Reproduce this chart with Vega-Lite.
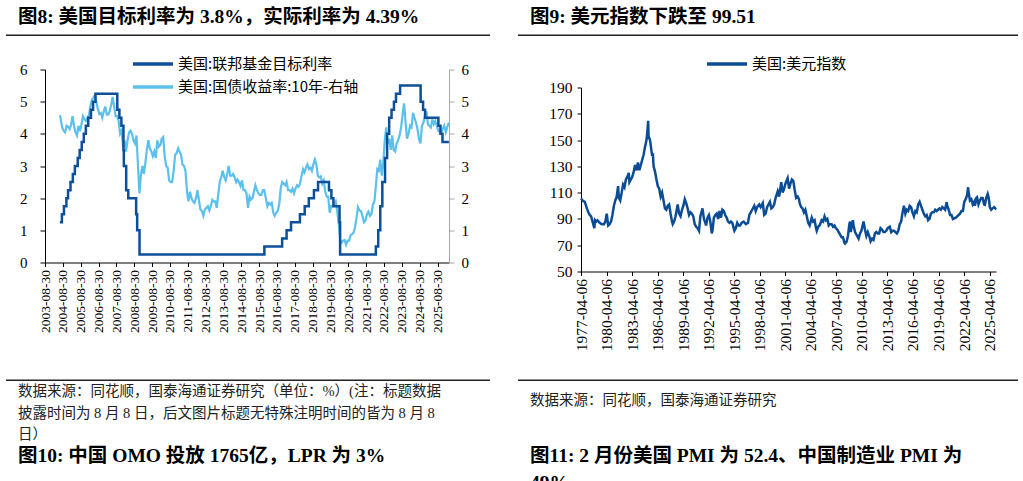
{
"$schema": "https://vega.github.io/schema/vega-lite/v6.json",
"background": "white",
"padding": {"left": 6, "top": 6.5, "right": 0, "bottom": 0},
"config": {"view": {"stroke": null}, "font": "Liberation Serif, Noto Sans CJK SC"},
"datasets": {
"fed": [{"d":"2004-06-30","v":1.25},{"d":"2004-08-10","v":1.5},{"d":"2004-09-21","v":1.75},{"d":"2004-11-10","v":2.0},{"d":"2004-12-14","v":2.25},{"d":"2005-02-02","v":2.5},{"d":"2005-03-22","v":2.75},{"d":"2005-05-03","v":3.0},{"d":"2005-06-30","v":3.25},{"d":"2005-08-09","v":3.5},{"d":"2005-09-20","v":3.75},{"d":"2005-11-01","v":4.0},{"d":"2005-12-13","v":4.25},{"d":"2006-01-31","v":4.5},{"d":"2006-03-28","v":4.75},{"d":"2006-05-10","v":5.0},{"d":"2006-06-29","v":5.25},{"d":"2007-09-18","v":4.75},{"d":"2007-10-31","v":4.5},{"d":"2007-12-11","v":4.25},{"d":"2008-01-22","v":3.5},{"d":"2008-01-30","v":3.0},{"d":"2008-03-18","v":2.25},{"d":"2008-04-30","v":2.0},{"d":"2008-10-08","v":1.5},{"d":"2008-10-29","v":1.0},{"d":"2008-12-16","v":0.25},{"d":"2015-12-16","v":0.5},{"d":"2016-12-14","v":0.75},{"d":"2017-03-15","v":1.0},{"d":"2017-06-14","v":1.25},{"d":"2017-12-13","v":1.5},{"d":"2018-03-21","v":1.75},{"d":"2018-06-13","v":2.0},{"d":"2018-09-26","v":2.25},{"d":"2018-12-19","v":2.5},{"d":"2019-07-31","v":2.25},{"d":"2019-09-18","v":2.0},{"d":"2019-10-30","v":1.75},{"d":"2020-03-03","v":1.25},{"d":"2020-03-15","v":0.25},{"d":"2022-03-16","v":0.5},{"d":"2022-05-04","v":1.0},{"d":"2022-06-15","v":1.75},{"d":"2022-07-27","v":2.5},{"d":"2022-09-21","v":3.25},{"d":"2022-11-02","v":4.0},{"d":"2022-12-14","v":4.5},{"d":"2023-02-01","v":4.75},{"d":"2023-03-22","v":5.0},{"d":"2023-05-03","v":5.25},{"d":"2023-07-26","v":5.5},{"d":"2024-09-18","v":5.0},{"d":"2024-11-07","v":4.75},{"d":"2024-12-18","v":4.5},{"d":"2025-09-17","v":4.25},{"d":"2025-10-29","v":4.0},{"d":"2025-12-10","v":3.75},{"d":"2026-04-20","v":3.75}],
"yld": [{"d":"2004-06-30","v":4.58},{"d":"2004-07-15","v":4.48},{"d":"2004-08-15","v":4.2},{"d":"2004-09-15","v":4.1},{"d":"2004-10-15","v":4.05},{"d":"2004-11-15","v":4.25},{"d":"2004-12-15","v":4.22},
{"d":"2005-01-15","v":4.15},{"d":"2005-02-15","v":4.28},{"d":"2005-03-15","v":4.55},{"d":"2005-04-15","v":4.25},{"d":"2005-05-15","v":4.05},{"d":"2005-06-15","v":3.95},{"d":"2005-07-15","v":4.25},{"d":"2005-08-15","v":4.08},{"d":"2005-09-15","v":4.3},{"d":"2005-10-15","v":4.55},{"d":"2005-11-15","v":4.45},{"d":"2005-12-15","v":4.4},
{"d":"2006-01-15","v":4.5},{"d":"2006-02-15","v":4.58},{"d":"2006-03-15","v":4.85},{"d":"2006-04-15","v":5.05},{"d":"2006-05-15","v":5.12},{"d":"2006-06-15","v":5.2},{"d":"2006-07-15","v":5.0},{"d":"2006-08-15","v":4.78},{"d":"2006-09-15","v":4.62},{"d":"2006-10-15","v":4.65},{"d":"2006-11-15","v":4.5},{"d":"2006-12-15","v":4.7},
{"d":"2007-01-15","v":4.85},{"d":"2007-02-15","v":4.6},{"d":"2007-03-15","v":4.6},{"d":"2007-04-15","v":4.7},{"d":"2007-05-15","v":4.9},{"d":"2007-06-15","v":5.15},{"d":"2007-07-15","v":4.85},{"d":"2007-08-15","v":4.55},{"d":"2007-09-15","v":4.55},{"d":"2007-10-15","v":4.4},{"d":"2007-11-15","v":4.0},{"d":"2007-12-15","v":4.1},
{"d":"2008-01-15","v":3.6},{"d":"2008-02-15","v":3.8},{"d":"2008-03-15","v":3.45},{"d":"2008-04-15","v":3.8},{"d":"2008-05-15","v":4.05},{"d":"2008-06-15","v":4.1},{"d":"2008-07-15","v":4.0},{"d":"2008-08-15","v":3.8},{"d":"2008-09-15","v":3.7},{"d":"2008-10-15","v":3.95},{"d":"2008-11-15","v":3.0},{"d":"2008-12-15","v":2.15},
{"d":"2009-01-15","v":2.75},{"d":"2009-02-15","v":3.0},{"d":"2009-03-15","v":2.75},{"d":"2009-04-15","v":3.1},{"d":"2009-05-15","v":3.5},{"d":"2009-06-15","v":3.8},{"d":"2009-07-15","v":3.55},{"d":"2009-08-15","v":3.45},{"d":"2009-09-15","v":3.3},{"d":"2009-10-15","v":3.45},{"d":"2009-11-15","v":3.25},{"d":"2009-12-15","v":3.8},
{"d":"2010-01-15","v":3.6},{"d":"2010-02-15","v":3.65},{"d":"2010-03-15","v":3.85},{"d":"2010-04-15","v":3.9},{"d":"2010-05-15","v":3.3},{"d":"2010-06-15","v":3.0},{"d":"2010-07-15","v":2.95},{"d":"2010-08-15","v":2.55},{"d":"2010-09-15","v":2.5},{"d":"2010-10-15","v":2.5},{"d":"2010-11-15","v":2.85},{"d":"2010-12-15","v":3.35},
{"d":"2011-01-15","v":3.4},{"d":"2011-02-15","v":3.55},{"d":"2011-03-15","v":3.45},{"d":"2011-04-15","v":3.35},{"d":"2011-05-15","v":3.05},{"d":"2011-06-15","v":3.0},{"d":"2011-07-15","v":2.85},{"d":"2011-08-15","v":2.2},{"d":"2011-09-15","v":1.9},{"d":"2011-10-15","v":2.2},{"d":"2011-11-15","v":2.0},{"d":"2011-12-15","v":1.9},
{"d":"2012-01-15","v":1.85},{"d":"2012-02-15","v":2.0},{"d":"2012-03-15","v":2.25},{"d":"2012-04-15","v":1.95},{"d":"2012-05-15","v":1.65},{"d":"2012-06-15","v":1.6},{"d":"2012-07-15","v":1.45},{"d":"2012-08-15","v":1.65},{"d":"2012-09-15","v":1.7},{"d":"2012-10-15","v":1.75},{"d":"2012-11-15","v":1.62},{"d":"2012-12-15","v":1.75},
{"d":"2013-01-15","v":1.95},{"d":"2013-02-15","v":1.9},{"d":"2013-03-15","v":1.9},{"d":"2013-04-15","v":1.7},{"d":"2013-05-15","v":2.1},{"d":"2013-06-15","v":2.5},{"d":"2013-07-15","v":2.65},{"d":"2013-08-15","v":2.85},{"d":"2013-09-15","v":2.65},{"d":"2013-10-15","v":2.55},{"d":"2013-11-15","v":2.75},{"d":"2013-12-15","v":3.0},
{"d":"2014-01-15","v":2.7},{"d":"2014-02-15","v":2.7},{"d":"2014-03-15","v":2.75},{"d":"2014-04-15","v":2.65},{"d":"2014-05-15","v":2.5},{"d":"2014-06-15","v":2.58},{"d":"2014-07-15","v":2.5},{"d":"2014-08-15","v":2.38},{"d":"2014-09-15","v":2.55},{"d":"2014-10-15","v":2.25},{"d":"2014-11-15","v":2.25},{"d":"2014-12-15","v":2.15},
{"d":"2015-01-15","v":1.7},{"d":"2015-02-15","v":2.05},{"d":"2015-03-15","v":1.95},{"d":"2015-04-15","v":2.0},{"d":"2015-05-15","v":2.2},{"d":"2015-06-15","v":2.4},{"d":"2015-07-15","v":2.25},{"d":"2015-08-15","v":2.15},{"d":"2015-09-15","v":2.1},{"d":"2015-10-15","v":2.1},{"d":"2015-11-15","v":2.25},{"d":"2015-12-15","v":2.25},
{"d":"2016-01-15","v":2.0},{"d":"2016-02-15","v":1.75},{"d":"2016-03-15","v":1.85},{"d":"2016-04-15","v":1.8},{"d":"2016-05-15","v":1.85},{"d":"2016-06-15","v":1.55},{"d":"2016-07-15","v":1.45},{"d":"2016-08-15","v":1.55},{"d":"2016-09-15","v":1.6},{"d":"2016-10-15","v":1.8},{"d":"2016-11-15","v":2.3},{"d":"2016-12-15","v":2.5},
{"d":"2017-01-15","v":2.45},{"d":"2017-02-15","v":2.4},{"d":"2017-03-15","v":2.5},{"d":"2017-04-15","v":2.25},{"d":"2017-05-15","v":2.25},{"d":"2017-06-15","v":2.2},{"d":"2017-07-15","v":2.3},{"d":"2017-08-15","v":2.15},{"d":"2017-09-15","v":2.3},{"d":"2017-10-15","v":2.4},{"d":"2017-11-15","v":2.35},{"d":"2017-12-15","v":2.45},
{"d":"2018-01-15","v":2.7},{"d":"2018-02-15","v":2.9},{"d":"2018-03-15","v":2.8},{"d":"2018-04-15","v":2.95},{"d":"2018-05-15","v":3.05},{"d":"2018-06-15","v":2.9},{"d":"2018-07-15","v":2.95},{"d":"2018-08-15","v":2.85},{"d":"2018-09-15","v":3.05},{"d":"2018-10-15","v":3.2},{"d":"2018-11-15","v":3.05},{"d":"2018-12-15","v":2.7},
{"d":"2019-01-15","v":2.65},{"d":"2019-02-15","v":2.68},{"d":"2019-03-15","v":2.45},{"d":"2019-04-15","v":2.55},{"d":"2019-05-15","v":2.2},{"d":"2019-06-15","v":2.05},{"d":"2019-07-15","v":2.05},{"d":"2019-08-15","v":1.55},{"d":"2019-09-15","v":1.75},{"d":"2019-10-15","v":1.75},{"d":"2019-11-15","v":1.82},{"d":"2019-12-15","v":1.9},
{"d":"2020-01-15","v":1.6},{"d":"2020-02-15","v":1.2},{"d":"2020-03-15","v":0.7},{"d":"2020-04-15","v":0.62},{"d":"2020-05-15","v":0.68},{"d":"2020-06-15","v":0.7},{"d":"2020-07-15","v":0.55},{"d":"2020-08-15","v":0.68},{"d":"2020-09-15","v":0.68},{"d":"2020-10-15","v":0.85},{"d":"2020-11-15","v":0.88},{"d":"2020-12-15","v":0.93},
{"d":"2021-01-15","v":1.1},{"d":"2021-02-15","v":1.4},{"d":"2021-03-15","v":1.72},{"d":"2021-04-15","v":1.62},{"d":"2021-05-15","v":1.6},{"d":"2021-06-15","v":1.45},{"d":"2021-07-15","v":1.25},{"d":"2021-08-15","v":1.3},{"d":"2021-09-15","v":1.5},{"d":"2021-10-15","v":1.58},{"d":"2021-11-15","v":1.45},{"d":"2021-12-15","v":1.5},
{"d":"2022-01-15","v":1.8},{"d":"2022-02-15","v":1.9},{"d":"2022-03-15","v":2.35},{"d":"2022-04-15","v":2.9},{"d":"2022-05-15","v":2.85},{"d":"2022-06-15","v":3.2},{"d":"2022-07-15","v":2.7},{"d":"2022-08-15","v":3.1},{"d":"2022-09-15","v":3.8},{"d":"2022-10-15","v":4.2},{"d":"2022-11-15","v":3.7},{"d":"2022-12-15","v":3.85},
{"d":"2023-01-15","v":3.5},{"d":"2023-02-15","v":3.95},{"d":"2023-03-15","v":3.5},{"d":"2023-04-15","v":3.45},{"d":"2023-05-15","v":3.7},{"d":"2023-06-15","v":3.8},{"d":"2023-07-15","v":3.95},{"d":"2023-08-15","v":4.2},{"d":"2023-09-15","v":4.6},{"d":"2023-10-15","v":4.95},{"d":"2023-11-15","v":4.35},{"d":"2023-12-15","v":3.85},
{"d":"2024-01-15","v":4.0},{"d":"2024-02-15","v":4.25},{"d":"2024-03-15","v":4.2},{"d":"2024-04-15","v":4.65},{"d":"2024-05-15","v":4.5},{"d":"2024-06-15","v":4.35},{"d":"2024-07-15","v":4.15},{"d":"2024-08-15","v":3.85},{"d":"2024-09-15","v":3.7},{"d":"2024-10-15","v":4.25},{"d":"2024-11-15","v":4.35},{"d":"2024-12-15","v":4.55},
{"d":"2025-01-15","v":4.7},{"d":"2025-02-15","v":4.3},{"d":"2025-03-15","v":4.25},{"d":"2025-04-15","v":4.2},{"d":"2025-05-15","v":4.45},{"d":"2025-06-15","v":4.3},{"d":"2025-07-15","v":4.4},{"d":"2025-08-15","v":4.25},{"d":"2025-09-15","v":4.1},{"d":"2025-10-15","v":4.05},{"d":"2025-11-15","v":4.05},{"d":"2025-12-15","v":4.15},
{"d":"2026-01-15","v":4.25},{"d":"2026-02-15","v":4.05},{"d":"2026-03-15","v":4.2},{"d":"2026-04-20","v":4.35}],
"dxy": [{"d":"1977-04-06","v":105.5},{"d":"1977-06-15","v":104},{"d":"1977-09-15","v":103},{"d":"1977-12-15","v":98},{"d":"1978-02-15","v":95},{"d":"1978-04-15","v":93},{"d":"1978-06-15","v":92},{"d":"1978-08-15","v":88},{"d":"1978-10-30","v":83},{"d":"1978-11-30","v":89},{"d":"1979-01-15","v":88},{"d":"1979-03-15","v":89},{"d":"1979-06-15","v":87},{"d":"1979-09-15","v":86},{"d":"1979-12-15","v":86},
{"d":"1980-02-15","v":88},{"d":"1980-04-15","v":94},{"d":"1980-06-15","v":85},{"d":"1980-08-15","v":86},{"d":"1980-10-15","v":88},{"d":"1980-12-15","v":93},{"d":"1981-02-15","v":100},{"d":"1981-04-15","v":104},{"d":"1981-06-15","v":107},{"d":"1981-08-15","v":115},{"d":"1981-09-15","v":106},{"d":"1981-11-15","v":104},
{"d":"1982-01-15","v":110},{"d":"1982-03-15","v":116},{"d":"1982-05-15","v":114},{"d":"1982-07-15","v":120},{"d":"1982-09-15","v":122},{"d":"1982-11-15","v":125},{"d":"1982-12-15","v":118},{"d":"1983-02-15","v":120},{"d":"1983-04-15","v":122},{"d":"1983-06-15","v":126},{"d":"1983-08-15","v":131},{"d":"1983-10-15","v":127},{"d":"1983-12-15","v":133},
{"d":"1984-02-15","v":127},{"d":"1984-04-15","v":131},{"d":"1984-06-15","v":135},{"d":"1984-08-15","v":139},{"d":"1984-10-15","v":145},{"d":"1984-12-15","v":150},{"d":"1985-01-15","v":155},{"d":"1985-02-25","v":164.7},{"d":"1985-03-15","v":153},{"d":"1985-05-15","v":150},{"d":"1985-06-15","v":146},{"d":"1985-08-15","v":138},{"d":"1985-09-15","v":140},{"d":"1985-10-15","v":130},{"d":"1985-12-15","v":126},
{"d":"1986-02-15","v":120},{"d":"1986-04-15","v":115},{"d":"1986-06-15","v":113},{"d":"1986-08-15","v":107},{"d":"1986-10-15","v":110},{"d":"1986-12-15","v":104},{"d":"1987-02-15","v":98},{"d":"1987-04-15","v":97},{"d":"1987-06-15","v":100},{"d":"1987-08-15","v":101},{"d":"1987-10-15","v":94},{"d":"1987-12-15","v":88},
{"d":"1988-01-15","v":86},{"d":"1988-03-15","v":88},{"d":"1988-05-15","v":92},{"d":"1988-07-15","v":98},{"d":"1988-08-15","v":101},{"d":"1988-10-15","v":94},{"d":"1988-12-15","v":92},{"d":"1989-02-15","v":97},{"d":"1989-04-15","v":100},{"d":"1989-06-15","v":105},{"d":"1989-08-15","v":102},{"d":"1989-10-15","v":98},{"d":"1989-12-15","v":93},
{"d":"1990-02-15","v":95},{"d":"1990-04-15","v":94},{"d":"1990-06-15","v":92},{"d":"1990-08-15","v":86},{"d":"1990-10-15","v":84},{"d":"1990-12-15","v":83},{"d":"1991-02-15","v":81},{"d":"1991-04-15","v":92},{"d":"1991-07-15","v":98},{"d":"1991-09-15","v":90},{"d":"1991-11-15","v":87},{"d":"1991-12-15","v":85},
{"d":"1992-02-15","v":91},{"d":"1992-04-15","v":93},{"d":"1992-06-15","v":88},{"d":"1992-08-15","v":79},{"d":"1992-09-15","v":81},{"d":"1992-11-15","v":91},{"d":"1993-01-15","v":93},{"d":"1993-03-15","v":94},{"d":"1993-05-15","v":90},{"d":"1993-07-15","v":96},{"d":"1993-09-15","v":91},{"d":"1993-11-15","v":97},
{"d":"1994-01-15","v":96},{"d":"1994-03-15","v":93},{"d":"1994-05-15","v":91},{"d":"1994-07-15","v":88},{"d":"1994-09-15","v":87},{"d":"1994-11-15","v":88},{"d":"1995-01-15","v":87},{"d":"1995-03-15","v":83},{"d":"1995-04-15","v":81},{"d":"1995-06-15","v":83},{"d":"1995-08-15","v":87},{"d":"1995-10-15","v":85},{"d":"1995-12-15","v":85},
{"d":"1996-02-15","v":87},{"d":"1996-05-15","v":88},{"d":"1996-08-15","v":86},{"d":"1996-11-15","v":87},{"d":"1997-01-15","v":93},{"d":"1997-03-15","v":95},{"d":"1997-05-15","v":97},{"d":"1997-08-15","v":100},{"d":"1997-10-15","v":96},{"d":"1997-12-15","v":99},
{"d":"1998-03-15","v":101},{"d":"1998-05-15","v":99},{"d":"1998-08-15","v":102},{"d":"1998-10-15","v":93},{"d":"1998-12-15","v":94},{"d":"1999-02-15","v":99},{"d":"1999-04-15","v":101},{"d":"1999-06-15","v":103},{"d":"1999-08-15","v":98},{"d":"1999-10-15","v":99},{"d":"1999-12-15","v":101},
{"d":"2000-02-15","v":106},{"d":"2000-05-15","v":111},{"d":"2000-07-15","v":107},{"d":"2000-10-15","v":118},{"d":"2000-12-15","v":110},{"d":"2001-02-15","v":113},{"d":"2001-04-15","v":117},{"d":"2001-07-15","v":121},{"d":"2001-09-15","v":113},{"d":"2001-11-15","v":117},
{"d":"2002-01-15","v":120},{"d":"2002-03-15","v":119},{"d":"2002-05-15","v":112},{"d":"2002-07-15","v":106},{"d":"2002-09-15","v":107},{"d":"2002-11-15","v":105},{"d":"2002-12-15","v":102},{"d":"2003-02-15","v":99},{"d":"2003-04-15","v":98},{"d":"2003-06-15","v":95},{"d":"2003-08-15","v":97},{"d":"2003-10-15","v":92},{"d":"2003-12-15","v":87},
{"d":"2004-02-15","v":85},{"d":"2004-05-15","v":91},{"d":"2004-07-15","v":88},{"d":"2004-09-15","v":89},{"d":"2004-11-15","v":83},{"d":"2004-12-15","v":81},{"d":"2005-02-15","v":84},{"d":"2005-04-15","v":85},{"d":"2005-07-15","v":89},{"d":"2005-09-15","v":88},{"d":"2005-11-15","v":92},
{"d":"2006-01-15","v":89},{"d":"2006-03-15","v":90},{"d":"2006-05-15","v":85},{"d":"2006-07-15","v":86},{"d":"2006-09-15","v":86},{"d":"2006-11-15","v":84},{"d":"2007-01-15","v":85},{"d":"2007-03-15","v":83},{"d":"2007-05-15","v":82},{"d":"2007-07-15","v":80},{"d":"2007-09-15","v":78},{"d":"2007-11-15","v":76},
{"d":"2008-01-15","v":76},{"d":"2008-03-15","v":72},{"d":"2008-04-15","v":71.3},{"d":"2008-06-15","v":72.5},{"d":"2008-08-15","v":77},{"d":"2008-10-15","v":86},{"d":"2008-11-15","v":88},{"d":"2008-12-15","v":80},{"d":"2009-03-15","v":89},{"d":"2009-04-15","v":85},{"d":"2009-06-15","v":80},{"d":"2009-08-15","v":78},{"d":"2009-11-15","v":75},
{"d":"2010-01-15","v":79},{"d":"2010-03-15","v":81},{"d":"2010-06-15","v":88},{"d":"2010-08-15","v":82},{"d":"2010-10-15","v":77},{"d":"2010-12-15","v":80},{"d":"2011-02-15","v":77},{"d":"2011-04-15","v":73},{"d":"2011-06-15","v":75},{"d":"2011-08-15","v":74},{"d":"2011-10-15","v":79},{"d":"2011-12-15","v":80},
{"d":"2012-02-15","v":79},{"d":"2012-04-15","v":79},{"d":"2012-06-15","v":83},{"d":"2012-08-15","v":82},{"d":"2012-10-15","v":80},{"d":"2012-12-15","v":80},{"d":"2013-02-15","v":81},{"d":"2013-04-15","v":83},{"d":"2013-07-15","v":84},{"d":"2013-09-15","v":80},{"d":"2013-11-15","v":81},
{"d":"2014-01-15","v":81},{"d":"2014-03-15","v":80},{"d":"2014-05-15","v":79},{"d":"2014-07-15","v":81},{"d":"2014-09-15","v":86},{"d":"2014-11-15","v":88},{"d":"2015-01-15","v":95},{"d":"2015-03-15","v":100},{"d":"2015-05-15","v":94},{"d":"2015-07-15","v":97},{"d":"2015-09-15","v":96},{"d":"2015-11-15","v":100},
{"d":"2016-01-15","v":99},{"d":"2016-03-15","v":95},{"d":"2016-05-15","v":92},{"d":"2016-07-15","v":96},{"d":"2016-09-15","v":95},{"d":"2016-11-15","v":101},{"d":"2017-01-15","v":103},{"d":"2017-03-15","v":100},{"d":"2017-05-15","v":97},{"d":"2017-07-15","v":94},{"d":"2017-09-15","v":92},{"d":"2017-11-15","v":93},
{"d":"2018-01-15","v":89},{"d":"2018-03-15","v":90},{"d":"2018-05-15","v":94},{"d":"2018-07-15","v":95},{"d":"2018-09-15","v":95},{"d":"2018-11-15","v":97},{"d":"2019-01-15","v":96},{"d":"2019-03-15","v":97},{"d":"2019-05-15","v":98},{"d":"2019-07-15","v":97},{"d":"2019-09-15","v":99},{"d":"2019-11-15","v":98},
{"d":"2020-01-15","v":97},{"d":"2020-03-20","v":102.8},{"d":"2020-04-15","v":100},{"d":"2020-06-15","v":97},{"d":"2020-08-15","v":93},{"d":"2020-10-15","v":93},{"d":"2020-12-15","v":90},{"d":"2021-02-15","v":90.5},{"d":"2021-04-15","v":91},{"d":"2021-06-15","v":92},{"d":"2021-08-15","v":93},{"d":"2021-10-15","v":94},{"d":"2021-12-15","v":96},
{"d":"2022-02-15","v":96},{"d":"2022-04-15","v":103},{"d":"2022-06-15","v":105},{"d":"2022-08-15","v":108},{"d":"2022-09-27","v":114.1},{"d":"2022-10-15","v":111},{"d":"2022-12-15","v":104},{"d":"2023-02-15","v":105},{"d":"2023-04-15","v":101},{"d":"2023-06-15","v":103},{"d":"2023-07-15","v":100},{"d":"2023-09-15","v":106},{"d":"2023-10-15","v":106.5},{"d":"2023-12-15","v":101},
{"d":"2024-02-15","v":104},{"d":"2024-04-15","v":106},{"d":"2024-06-15","v":105.8},{"d":"2024-08-15","v":101},{"d":"2024-09-15","v":100.8},{"d":"2024-11-15","v":106},{"d":"2025-01-15","v":109},{"d":"2025-02-15","v":107},{"d":"2025-03-15","v":104},{"d":"2025-04-15","v":99},{"d":"2025-06-15","v":97},{"d":"2025-08-15","v":98},{"d":"2025-10-15","v":99},{"d":"2025-12-15","v":98},{"d":"2026-01-06","v":98.5}]
},
"concat": [
{
 "width": 484, "height": 1.5,
 "data": {"values": [{}]},
 "mark": {"type": "rect", "color": "#222"},
 "title": {"text": "图8:  美国目标利率为 3.8%，实际利率为 4.39%", "anchor": "start", "dx": 12, "offset": 7, "fontSize": 19.5, "fontWeight": "bold", "color": "#000", "font": "Liberation Serif, Noto Sans CJK SC"}
},
{
 "width": 500, "height": 1.5,
 "data": {"values": [{}]},
 "mark": {"type": "rect", "color": "#222"},
 "title": {"text": "图9:  美元指数下跌至 99.51", "anchor": "start", "dx": 12, "offset": 7, "fontSize": 19.5, "fontWeight": "bold", "color": "#000", "font": "Liberation Serif, Noto Sans CJK SC"}
},
{
 "width": 484, "height": 342.5,
 "encoding": {
  "x": {"field": "d", "type": "temporal",
   "scale": {"type": "utc", "domain": [{"year": 2003, "month": 8, "date": 30, "utc": true}, {"year": 2026, "month": 4, "date": 22, "utc": true}], "range": [39, 443]},
   "axis": {"title": null, "format": "%Y-%m-%d", "labelAngle": -90, "labelFont": "Liberation Serif", "labelFontSize": 13.5, "labelColor": "#000", "domainColor": "#000", "tickColor": "#000", "tickSize": 4, "labelPadding": 3, "offset": -116.5, "grid": false, "labelOverlap": false, "labelBound": false, "labelFlush": false,
    "values": [{"year":2003,"month":8,"date":30,"utc":true},{"year":2004,"month":8,"date":30,"utc":true},{"year":2005,"month":8,"date":30,"utc":true},{"year":2006,"month":8,"date":30,"utc":true},{"year":2007,"month":8,"date":30,"utc":true},{"year":2008,"month":8,"date":30,"utc":true},{"year":2009,"month":8,"date":30,"utc":true},{"year":2010,"month":8,"date":30,"utc":true},{"year":2011,"month":8,"date":30,"utc":true},{"year":2012,"month":8,"date":30,"utc":true},{"year":2013,"month":8,"date":30,"utc":true},{"year":2014,"month":8,"date":30,"utc":true},{"year":2015,"month":8,"date":30,"utc":true},{"year":2016,"month":8,"date":30,"utc":true},{"year":2017,"month":8,"date":30,"utc":true},{"year":2018,"month":8,"date":30,"utc":true},{"year":2019,"month":8,"date":30,"utc":true},{"year":2020,"month":8,"date":30,"utc":true},{"year":2021,"month":8,"date":30,"utc":true},{"year":2022,"month":8,"date":30,"utc":true},{"year":2023,"month":8,"date":30,"utc":true},{"year":2024,"month":8,"date":30,"utc":true},{"year":2025,"month":8,"date":30,"utc":true}]}}
 },
 "layer": [
  {
   "data": {"name": "yld"},
   "mark": {"type": "line", "strokeWidth": 2.2},
   "encoding": {
    "y": {"field": "v", "type": "quantitative", "scale": {"domain": [0, 6], "range": [226, 33]},
     "axis": {"orient": "right", "offset": -41, "title": null, "values": [0,1,2,3,4,5,6], "grid": false, "domainColor": "#A6A6A6", "tickColor": "#A6A6A6", "tickSize": 5, "labelPadding": 7, "labelFont": "Liberation Serif", "labelFontSize": 15, "labelColor": "#000"}},
    "color": {"datum": "美国:国债收益率:10年-右轴", "type": "nominal"}
   }
  },
  {
   "data": {"name": "fed"},
   "mark": {"type": "line", "interpolate": "step-after", "strokeWidth": 2.5},
   "encoding": {
    "y": {"field": "v", "type": "quantitative", "scale": {"domain": [0, 6], "range": [226, 33]},
     "axis": {"orient": "left", "offset": -39, "title": null, "values": [0,1,2,3,4,5,6], "grid": false, "domainColor": "#000", "tickColor": "#000", "tickSize": 5, "labelPadding": 13, "labelFont": "Liberation Serif", "labelFontSize": 15, "labelColor": "#000"}},
    "color": {"datum": "美国:联邦基金目标利率", "type": "nominal",
     "scale": {"domain": ["美国:联邦基金目标利率", "美国:国债收益率:10年-右轴"], "range": ["#0D4F98", "#5BC0EB"]},
     "legend": {"title": null, "orient": "none", "legendX": 125, "legendY": 20, "direction": "vertical", "symbolType": "stroke", "symbolSize": 1600, "clipHeight": 15, "symbolStrokeWidth": 3.5, "labelFont": "Noto Sans CJK SC", "labelFontSize": 15, "labelColor": "#000", "labelLimit": 0, "rowPadding": 7, "labelOffset": 3, "padding": 0}}
   }
  }
 ],
 "resolve": {"scale": {"y": "independent"}}
},
{
 "width": 500, "height": 342.5,
 "data": {"name": "dxy"},
 "mark": {"type": "line", "strokeWidth": 2.5},
 "encoding": {
  "x": {"field": "d", "type": "temporal",
   "scale": {"type": "utc", "domain": [{"year": 1977, "month": 4, "date": 6, "utc": true}, {"year": 2026, "month": 1, "date": 6, "utc": true}], "range": [63, 478]},
   "axis": {"title": null, "format": "%Y-%m-%d", "labelAngle": -90, "labelFont": "Liberation Serif", "labelFontSize": 15.5, "labelColor": "#000", "domainColor": "#000", "tickColor": "#000", "tickSize": 4, "labelPadding": 3, "offset": -107.5, "grid": false, "labelOverlap": false, "labelBound": false, "labelFlush": false,
    "values": [{"year":1977,"month":4,"date":6,"utc":true},{"year":1980,"month":4,"date":6,"utc":true},{"year":1983,"month":4,"date":6,"utc":true},{"year":1986,"month":4,"date":6,"utc":true},{"year":1989,"month":4,"date":6,"utc":true},{"year":1992,"month":4,"date":6,"utc":true},{"year":1995,"month":4,"date":6,"utc":true},{"year":1998,"month":4,"date":6,"utc":true},{"year":2001,"month":4,"date":6,"utc":true},{"year":2004,"month":4,"date":6,"utc":true},{"year":2007,"month":4,"date":6,"utc":true},{"year":2010,"month":4,"date":6,"utc":true},{"year":2013,"month":4,"date":6,"utc":true},{"year":2016,"month":4,"date":6,"utc":true},{"year":2019,"month":4,"date":6,"utc":true},{"year":2022,"month":4,"date":6,"utc":true},{"year":2025,"month":4,"date":6,"utc":true}]}},
  "y": {"field": "v", "type": "quantitative", "scale": {"domain": [50, 190], "range": [235, 51]},
   "axis": {"orient": "left", "offset": -63, "title": null, "values": [50,70,90,110,130,150,170,190], "grid": false, "domainColor": "#000", "tickColor": "#000", "tickSize": 4, "labelPadding": 5, "labelFont": "Liberation Serif", "labelFontSize": 15.5, "labelColor": "#000"}},
  "color": {"datum": "美国:美元指数", "type": "nominal", "scale": {"domain": ["美国:美元指数"], "range": ["#0B4C95"]},
   "legend": {"title": null, "orient": "none", "legendX": 187, "legendY": 20, "symbolType": "stroke", "symbolSize": 1600, "clipHeight": 15, "symbolStrokeWidth": 3.5, "labelFont": "Noto Sans CJK SC", "labelFontSize": 15, "labelColor": "#000", "labelLimit": 0, "labelOffset": 3, "padding": 0}}
 }
},
{
 "width": 484, "height": 1.5,
 "data": {"values": [{}]},
 "mark": {"type": "rect", "color": "#222"},
 "title": {"text": ["数据来源：同花顺，国泰海通证券研究（单位：%）(注：标题数据", "披露时间为 8 月 8 日，后文图片标题无特殊注明时间的皆为 8 月 8", "日）"], "subtitle": "图10:  中国  OMO 投放 1765亿，LPR 为 3%", "orient": "bottom", "anchor": "start", "dx": 12, "offset": 4, "font": "Liberation Serif, Noto Sans CJK SC", "fontSize": 14.5, "fontWeight": "normal", "color": "#222", "lineHeight": 21.5, "subtitleFont": "Liberation Serif, Noto Sans CJK SC", "subtitleFontSize": 19.5, "subtitleFontWeight": "bold", "subtitleColor": "#000", "subtitlePadding": 4}
},
{
 "width": 500, "height": 1.5,
 "data": {"values": [{}]},
 "mark": {"type": "rect", "color": "#222"},
 "title": {"text": "数据来源：同花顺，国泰海通证券研究", "subtitle": ["图11:  2 月份美国 PMI 为 52.4、中国制造业 PMI 为", "49%"], "orient": "bottom", "anchor": "start", "dx": 12, "offset": 13, "font": "Liberation Serif, Noto Sans CJK SC", "fontSize": 14.5, "fontWeight": "normal", "color": "#222", "subtitleFont": "Liberation Serif, Noto Sans CJK SC", "subtitleFontSize": 19.5, "subtitleFontWeight": "bold", "subtitleColor": "#000", "subtitlePadding": 38, "subtitleLineHeight": 27}
}
],
"columns": 2,
"spacing": {"row": 0, "column": 28},
"bounds": "flush",
"resolve": {"scale": {"color": "independent"}, "legend": {"color": "independent"}}
}
